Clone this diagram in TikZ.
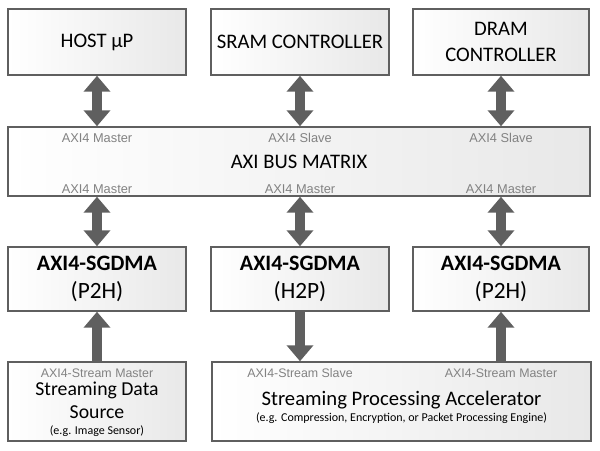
\documentclass[tikz,border=0pt]{standalone}
\usepackage{fontspec}
\setmainfont{Carlito}
\newfontfamily\labelfont{Liberation Sans}
\usetikzlibrary{arrows.meta,positioning,calc}
\definecolor{frame}{RGB}{95,95,95}
\definecolor{pipe}{RGB}{95,95,95}
\definecolor{tag}{RGB}{130,130,130}
\tikzset{
  unit/.style={draw=frame,line width=1.1pt,left color=white,right color=black!9,inner sep=0pt,align=center,font=\fontsize{15.5}{19.5}\selectfont},
  tagtext/.style={inner sep=0pt,text=tag,font=\labelfont\fontsize{9.6}{11}\selectfont},
  streamtag/.style={inner sep=0pt,text=tag,font=\labelfont\fontsize{9.3}{11}\selectfont},
  bus/.style={-{Triangle[length=12pt,width=19.5pt]},pipe,line width=7.5pt},
  biway/.style={{Triangle[length=12pt,width=19.5pt]}-{Triangle[length=12pt,width=19.5pt]},pipe,line width=7.5pt},
}
\newcommand{\dmatitle}[1]{{\fontsize{16.5}{19}\selectfont\bfseries AXI4-SGDMA}\\[1pt]{\fontsize{17.5}{19}\selectfont #1}}
\begin{document}
\begin{tikzpicture}[x=0.75pt,y=-0.75pt]
\useasboundingbox (0,0) rectangle (600,450);
% top row
\node[unit,minimum width=133.5pt,minimum height=49.5pt] (host) at (97,42) {HOST µP};
\node[unit,minimum width=133.5pt,minimum height=49.5pt] (sram) at (300,42) {SRAM CONTROLLER};
\node[unit,minimum width=132pt,minimum height=49.5pt] (dram) at (501,42) {DRAM\\CONTROLLER};
% bus matrix
\node[unit,minimum width=436.5pt,minimum height=51.75pt] (matrix) at (299,161.5) {AXI BUS MATRIX};
\node[tagtext] (mhost) at (97,138) {AXI4 Master};
\node[tagtext] (msram) at (300,138) {AXI4 Slave};
\node[tagtext] (mdram) at (501,138) {AXI4 Slave};
\node[tagtext] (mdma1) at (97,189) {AXI4 Master};
\node[tagtext] (mdma2) at (300,189) {AXI4 Master};
\node[tagtext] (mdma3) at (501,189) {AXI4 Master};
% dma engines
\node[unit,minimum width=133.5pt,minimum height=48pt] (dmaa) at (97,279) {\dmatitle{(P2H)}};
\node[unit,minimum width=133.5pt,minimum height=48pt] (dmab) at (300,279) {\dmatitle{(H2P)}};
\node[unit,minimum width=132pt,minimum height=48pt] (dmac) at (501,279) {\dmatitle{(P2H)}};
% streaming blocks
\node[unit,minimum width=133.5pt,minimum height=59.25pt] (source) at (97,401.5) {};
\node[streamtag] (srcm) at (97,373) {AXI4-Stream Master};
\node[inner sep=0pt,align=center,font=\fontsize{14.8}{17.5}\selectfont] (srctxt) at (97,400.5) {Streaming Data\\Source};
\node[inner sep=0pt,font=\fontsize{9}{11}\selectfont] (srcex) at (97,431) {(e.g. Image Sensor)};
\node[unit,minimum width=284.25pt,minimum height=59.25pt] (accel) at (401.5,401.5) {};
\node[streamtag] (accs) at (300,373) {AXI4-Stream Slave};
\node[streamtag] (accm) at (501,373) {AXI4-Stream Master};
\node[inner sep=0pt,font=\fontsize{15.5}{18}\selectfont] (acctxt) at (401.5,400) {Streaming Processing Accelerator};
\node[inner sep=0pt,font=\fontsize{9}{11}\selectfont] (accex) at (401.5,418) {(e.g. Compression, Encryption, or Packet Processing Engine)};
% connectors
\draw[biway] (host.south) -- (host.south |- matrix.north);
\draw[biway] (sram.south) -- (sram.south |- matrix.north);
\draw[biway] (dram.south) -- (dram.south |- matrix.north);
\draw[biway] (dmaa.north |- matrix.south) -- (dmaa.north);
\draw[biway] (dmab.north |- matrix.south) -- (dmab.north);
\draw[biway] (dmac.north |- matrix.south) -- (dmac.north);
\draw[bus] (source.north) -- (dmaa.south);
\draw[bus] (dmab.south) -- (dmab.south |- accel.north);
\draw[bus] (dmac.south |- accel.north) -- (dmac.south);
\end{tikzpicture}
\end{document}
